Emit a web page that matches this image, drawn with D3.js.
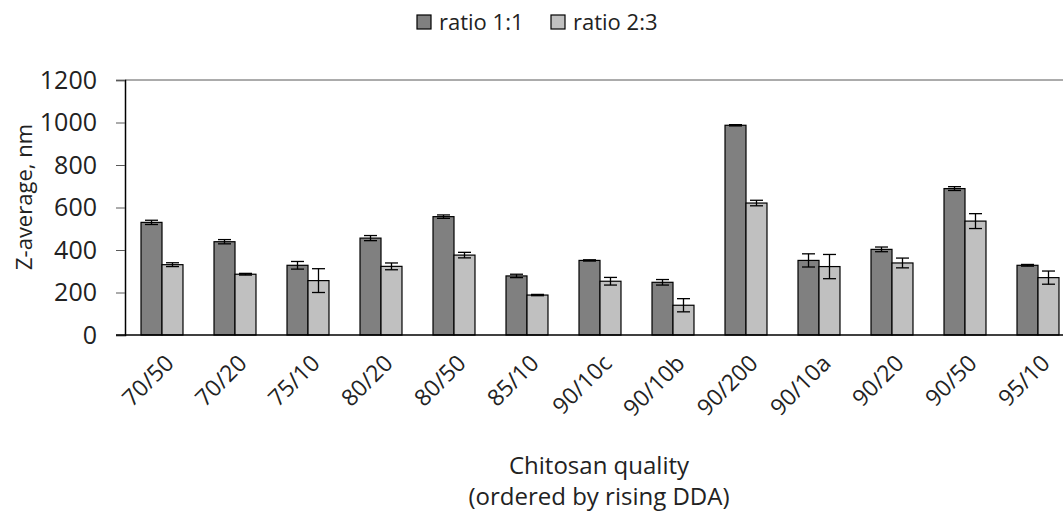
<!DOCTYPE html>
<html>
<head>
<meta charset="utf-8">
<script src="https://cdn.jsdelivr.net/npm/d3@7"></script>
<style>
  body { margin: 0; background: #fff; }
  svg { display: block; font-family: "Open Sans", "Noto Sans", sans-serif; }
</style>
</head>
<body>
<div id="chart"></div>
<script>
// chitosan qualities, ordered by rising DDA
var categories = ["70/50", "70/20", "75/10", "80/20", "80/50", "85/10", "90/10c",
                  "90/10b", "90/200", "90/10a", "90/20", "90/50", "95/10"];
var seriesNames = ["ratio 1:1", "ratio 2:3"];
var ratio11 = [530, 439, 328, 456, 557, 278, 351, 248, 987, 351, 403, 689, 328];
var ratio11Err = [10, 10, 18, 12, 8, 8, 3, 13, 3, 31, 11, 9, 4];
var ratio23 = [331, 286, 256, 323, 376, 188, 253, 140, 621, 322, 339, 536, 270];
var ratio23Err = [9, 4, 56, 16, 13, 3, 18, 31, 13, 57, 23, 35, 31];
var yTicks = [0, 200, 400, 600, 800, 1000, 1200];

var width = 1063, height = 513;
var margin = {top: 80, left: 125, bottom: 178};
var colors = ["#808080", "#c0c0c0"];
var textColor = "#222";

var svg = d3.select("#chart").append("svg")
  .attr("width", width)
  .attr("height", height);

//Scales
var x = d3.scaleBand()
  .domain(categories)
  .range([margin.left, margin.left + 73 * categories.length])
  .paddingInner(0.425)
  .paddingOuter(0.2125);

var x1 = d3.scaleBand()
  .domain(seriesNames)
  .range([0, x.bandwidth()]);

var y = d3.scaleLinear()
  .domain([0, 1200])
  .range([height - margin.bottom, margin.top]);

//Top line at 1200
svg.append("line")
  .attr("x1", margin.left)
  .attr("x2", width)
  .attr("y1", y(1200))
  .attr("y2", y(1200))
  .attr("stroke", "#595959")
  .attr("stroke-width", 1);

//Bars
var rows = categories.map(function(c, i) {
  return [
    {cat: c, s: seriesNames[0], v: ratio11[i], e: ratio11Err[i], k: 0},
    {cat: c, s: seriesNames[1], v: ratio23[i], e: ratio23Err[i], k: 1}
  ];
});

var groups = svg.selectAll(".grp")
  .data(rows)
  .enter()
  .append("g")
  .attr("transform", d => "translate(" + x(d[0].cat) + ",0)");

groups.selectAll("rect")
  .data(d => d)
  .enter()
  .append("rect")
  .attr("x", d => x1(d.s) + 0.5)
  .attr("y", d => y(d.v))
  .attr("width", x1.bandwidth())
  .attr("height", d => y(0) - y(d.v))
  .attr("fill", d => colors[d.k])
  .attr("stroke", "#000")
  .attr("stroke-width", 1.2);

//Error bars
var err = groups.selectAll(".err")
  .data(d => d)
  .enter()
  .append("g")
  .attr("stroke", "#000")
  .attr("stroke-width", 1.3);

err.append("line")
  .attr("x1", d => x1(d.s) + x1.bandwidth() / 2 + 0.5)
  .attr("x2", d => x1(d.s) + x1.bandwidth() / 2 + 0.5)
  .attr("y1", d => y(d.v + d.e))
  .attr("y2", d => y(d.v - d.e));

[1, -1].forEach(function(sign) {
  err.append("line")
    .attr("x1", d => x1(d.s) + x1.bandwidth() / 2 - 6)
    .attr("x2", d => x1(d.s) + x1.bandwidth() / 2 + 7)
    .attr("y1", d => y(d.v + sign * d.e))
    .attr("y2", d => y(d.v + sign * d.e));
});

//Y axis
var yAxis = svg.append("g")
  .attr("transform", "translate(" + margin.left + ",0)")
  .call(d3.axisLeft(y).tickValues(yTicks).tickFormat(d3.format("d")).tickSize(9).tickPadding(19));
yAxis.attr("font-family", null).attr("font-size", null);
yAxis.select(".domain").attr("stroke", "#000").attr("stroke-width", 1.5);
yAxis.selectAll(".tick line").attr("stroke", "#595959");
yAxis.selectAll("text")
  .style("font-size", "25px")
  .style("fill", textColor);

//X axis line
svg.append("line")
  .attr("x1", margin.left - 9)
  .attr("x2", width)
  .attr("y1", y(0))
  .attr("y2", y(0))
  .attr("stroke", "#000")
  .attr("stroke-width", 1.5);

//X tick labels
svg.selectAll(".xlab")
  .data(categories)
  .enter()
  .append("text")
  .attr("transform", d => "translate(" + (x(d) + x.bandwidth() / 2 + 8) + "," + (y(0) + 24) + ") rotate(-45)")
  .attr("text-anchor", "end")
  .attr("dy", "0.35em")
  .style("font-size", "23px")
  .style("fill", textColor)
  .text(d => d);

//Axis titles
svg.append("text")
  .attr("transform", "translate(32,197) rotate(-90)")
  .attr("text-anchor", "middle")
  .style("font-size", "22px")
  .style("fill", textColor)
  .text("Z-average, nm");

svg.append("text")
  .attr("x", 599)
  .attr("y", 474)
  .attr("text-anchor", "middle")
  .style("font-size", "24px")
  .style("fill", textColor)
  .text("Chitosan quality");

svg.append("text")
  .attr("x", 599)
  .attr("y", 505)
  .attr("text-anchor", "middle")
  .style("font-size", "24px")
  .style("fill", textColor)
  .text("(ordered by rising DDA)");

//Legend
var legendX = [417, 551];
var legend = svg.selectAll(".leg")
  .data(seriesNames)
  .enter()
  .append("g")
  .attr("transform", (d, i) => "translate(" + legendX[i] + ",15)");

legend.append("rect")
  .attr("width", 14)
  .attr("height", 14)
  .attr("fill", (d, i) => colors[i])
  .attr("stroke", "#000")
  .attr("stroke-width", 1.2);

legend.append("text")
  .attr("x", 22)
  .attr("y", 15)
  .style("font-size", "22px")
  .style("fill", textColor)
  .text(d => d);
</script>
</body>
</html>
